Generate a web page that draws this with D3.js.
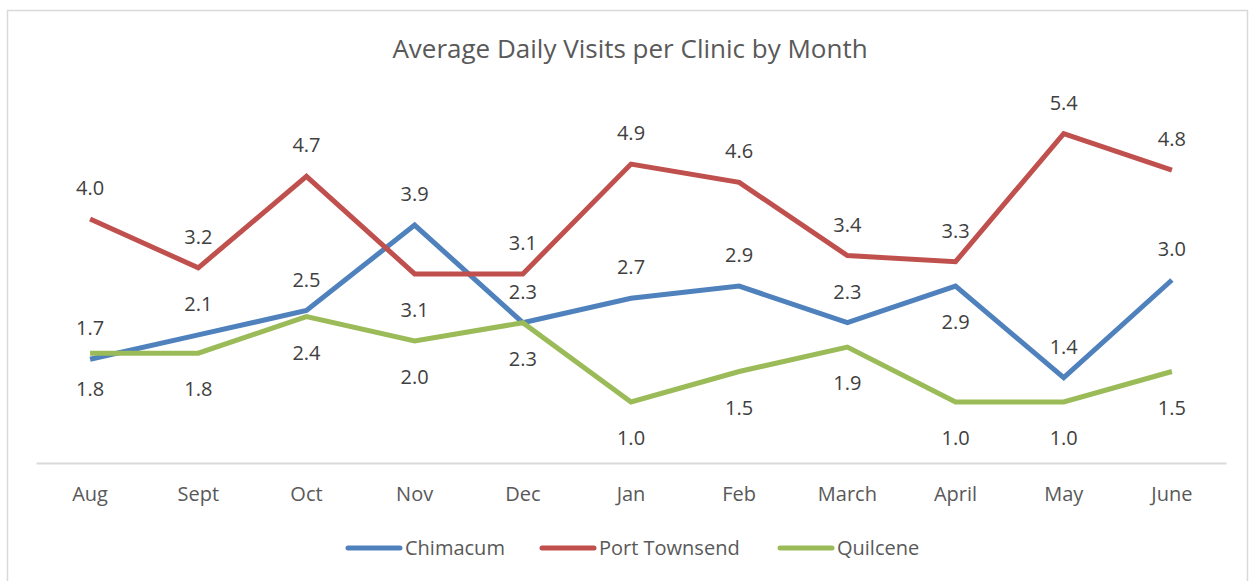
<!DOCTYPE html>
<html>
<head>
<meta charset="utf-8">
<script src="https://cdn.jsdelivr.net/npm/d3@7"></script>
<style>
  body { margin: 0; background: #fff; }
  svg { display: block; font-family: "Open Sans", sans-serif; }
</style>
</head>
<body>
<svg id="chart"></svg>
<script>
// data
var months = ["Aug", "Sept", "Oct", "Nov", "Dec", "Jan", "Feb", "March", "April", "May", "June"];
var chimacum = [1.7, 2.1, 2.5, 3.9, 2.3, 2.7, 2.9, 2.3, 2.9, 1.4, 3.0];
var portTownsend = [4.0, 3.2, 4.7, 3.1, 3.1, 4.9, 4.6, 3.4, 3.3, 5.4, 4.8];
var quilcene = [1.8, 1.8, 2.4, 2.0, 2.3, 1.0, 1.5, 1.9, 1.0, 1.0, 1.5];
var seriesNames = ["Chimacum", "Port Townsend", "Quilcene"];

// label placement: -1 above the point, 1 below
var labelSide = {
    "Chimacum": [-1, -1, -1, -1, -1, -1, -1, -1, 1, -1, -1],
    "Port Townsend": [-1, -1, -1, 1, -1, -1, -1, -1, -1, -1, -1],
    "Quilcene": [1, 1, 1, 1, 1, 1, 1, 1, 1, 1, 1]
};
var colors = { "Chimacum": "#4f81bd", "Port Townsend": "#c0504d", "Quilcene": "#9bbb59" };

var width = 1252, height = 581;
var svg = d3.select('#chart').attr('width', width).attr('height', height);

// chart border
svg.append('rect')
    .attr('x', 7.5).attr('y', 10.5)
    .attr('width', 1240).attr('height', 600)
    .attr('fill', '#fff')
    .attr('stroke', '#d9d9d9')
    .attr('stroke-width', 1.5);

svg.append('text')
    .attr('x', 630).attr('y', 58)
    .attr('text-anchor', 'middle')
    .attr('font-size', 26)
    .attr('fill', '#595959')
    .text('Average Daily Visits per Clinic by Month');

var x = d3.scaleBand().domain(months).range([36, 1226]);
var y = d3.scaleLinear().domain([0, 6]).range([463, 97]);

// category axis
var xAxis = svg.append('g')
    .attr('transform', 'translate(0,463)')
    .call(d3.axisBottom(x).tickSize(0).tickPadding(24));
xAxis.select('.domain').attr('stroke', '#d9d9d9').attr('stroke-width', 2);
xAxis.selectAll('text')
    .attr('font-size', 20)
    .attr('fill', '#595959')
    .attr('font-family', '"Open Sans", sans-serif');

var series = [
    { name: "Chimacum", values: chimacum },
    { name: "Port Townsend", values: portTownsend },
    { name: "Quilcene", values: quilcene }
];

var line = d3.line()
    .x(function(d, i) { return x(months[i]) + x.bandwidth() / 2; })
    .y(function(d) { return y(d); });

svg.append('g').selectAll('path')
    .data(series)
    .enter().append('path')
    .attr('d', function(d) { return line(d.values); })
    .attr('fill', 'none')
    .attr('stroke', function(d) { return colors[d.name]; })
    .attr('stroke-width', 5)
    .attr('stroke-linejoin', 'miter');

// data labels
series.forEach(function(s) {
    svg.append('g').selectAll('text')
        .data(s.values)
        .enter().append('text')
        .attr('x', function(d, i) { return x(months[i]) + x.bandwidth() / 2; })
        .attr('y', function(d, i) {
            var side = labelSide[s.name][i];
            return y(d) + (side < 0 ? -24 : 43);
        })
        .attr('text-anchor', 'middle')
        .attr('font-size', 20)
        .attr('fill', '#404040')
        .text(function(d) { return d.toFixed(1); });
});

// legend
var legendX = [346, 540, 778];
var legend = svg.append('g').selectAll('g')
    .data(seriesNames)
    .enter().append('g')
    .attr('transform', function(d, i) { return 'translate(' + legendX[i] + ',548)'; });
legend.append('line')
    .attr('x1', 2).attr('x2', 54)
    .attr('stroke', function(d) { return colors[d]; })
    .attr('stroke-width', 5)
    .attr('stroke-linecap', 'round');
legend.append('text')
    .attr('x', 59).attr('y', 7)
    .attr('font-size', 20)
    .attr('fill', '#595959')
    .text(function(d) { return d; });
</script>
</body>
</html>
